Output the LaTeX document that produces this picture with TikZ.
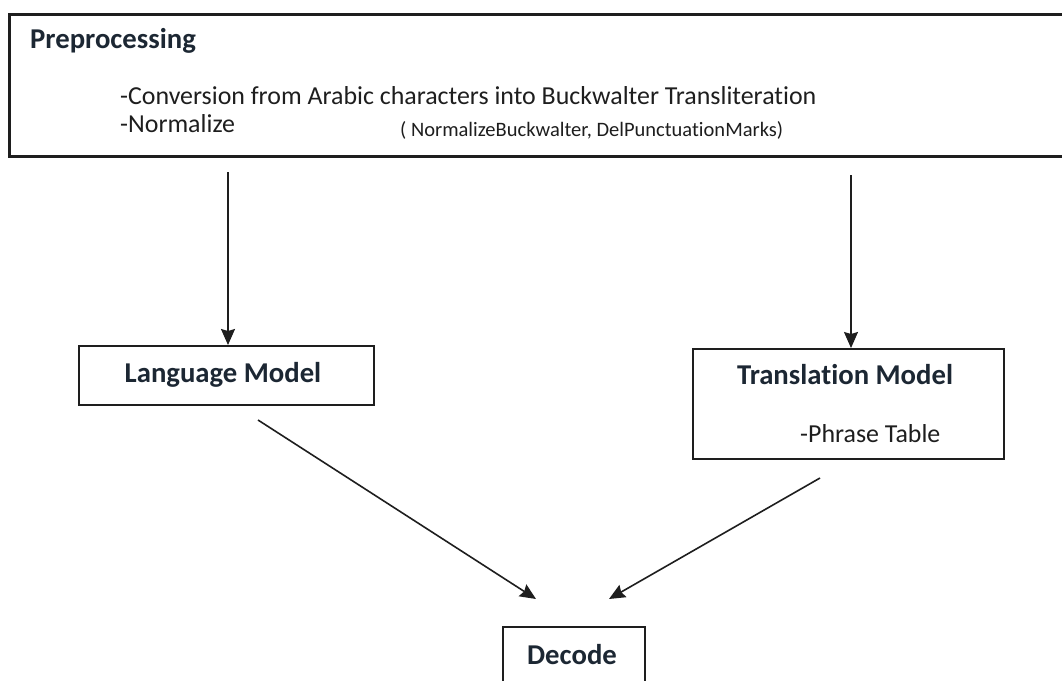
\documentclass[tikz,border=0pt]{standalone}
\usepackage{fontspec}
\setmainfont{Carlito}[Ligatures=CommonOff]
\usetikzlibrary{arrows.meta}
\definecolor{ink}{HTML}{1E1E1E}
\definecolor{head}{HTML}{1C2733}
\tikzset{
  box/.style={draw=ink, line width=2pt, fill=white, inner sep=0pt},
  title/.style={font=\fontsize{28.7}{30}\selectfont\bfseries, text=head, inner sep=0pt},
  body/.style={font=\fontsize{25.9}{27}\selectfont, text=ink, inner sep=0pt},
  small/.style={font=\fontsize{20.5}{22}\selectfont, text=ink, inner sep=0pt},
  flow/.style={draw=ink, line width=1.6pt, -{Stealth[length=16pt, width=14pt, inset=2pt]}}
}
\begin{document}
\begin{tikzpicture}[x=1pt, y=-1pt]
  \useasboundingbox (0,0) rectangle (1062,680);
  % boxes
  \node[box, line width=2.6pt, anchor=north west, minimum width=1070pt, minimum height=142pt] (pre) at (8,13) {};
  \node[box, anchor=north west, minimum width=295pt, minimum height=59pt] (lm) at (78,345) {};
  \node[box, anchor=north west, minimum width=311pt, minimum height=110pt] (tm) at (692,348) {};
  \node[box, anchor=north west, minimum width=142pt, minimum height=70pt] (dec) at (502,626) {};
  % texts
  \node[title, anchor=base west] (pret) at (30,48) {Preprocessing};
  \node[body, anchor=base west] (conv) at (120,104) {-Conversion from Arabic characters into Buckwalter Transliteration};
  \node[body, anchor=base west] (norm) at (120,132) {-Normalize};
  \node[small, anchor=base west] (normargs) at (400,136) {( NormalizeBuckwalter, DelPunctuationMarks)};
  \node[title, anchor=base] (lmt) at (223,382) {Language Model};
  \node[title, anchor=base] (tmt) at (845,384) {Translation Model};
  \node[body, anchor=base west] (pt) at (800,442) {-Phrase Table};
  \node[title, anchor=base] (dect) at (572,664) {Decode};
  % connector end points
  \coordinate (a1) at (228,172);
  \coordinate (a2) at (851,175);
  \coordinate (b1) at (258,420);
  \coordinate (b2) at (820,478);
  \coordinate (e1) at (536,599);
  \coordinate (e2) at (609,599);
  % connectors
  \draw[flow] (a1) -- (a1 |- lm.north);
  \draw[flow] (a2) -- (a2 |- tm.north);
  \draw[flow] (b1) -- (e1);
  \draw[flow] (b2) -- (e2);
\end{tikzpicture}
\end{document}
